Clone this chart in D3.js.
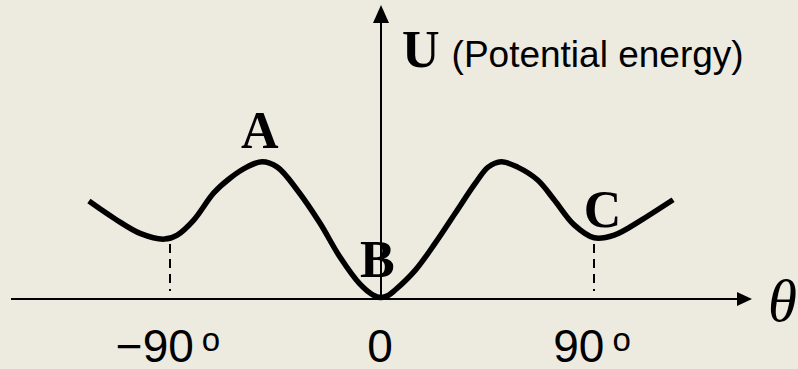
<!DOCTYPE html>
<html>
<head>
<meta charset="utf-8">
<script src="https://cdn.jsdelivr.net/npm/d3@7"></script>
<style>
    html, body { margin: 0; padding: 0; background: #edeae0; overflow: hidden; }
</style>
</head>
<body>
<div class="chart"></div>
<script>
//Curve: angle in degrees, U relative to the peak
var angles = [-124, -113, -102, -92, -86.5, -79.5, -71, -64, -57, -50.5, -44, -35.5, -26, -17.5, -9, -3.5, 0,
              3, 6, 14.5, 23, 31.5, 40, 45.5, 51, 58, 66.5, 73.5, 82, 90.5, 99, 110.5, 124];
var energies = [0.71, 0.58, 0.47, 0.43, 0.46, 0.57, 0.77, 0.88, 0.96, 1.0, 0.96, 0.79, 0.55, 0.30, 0.10, 0.02, 0,
                0.015, 0.055, 0.20, 0.40, 0.62, 0.84, 0.96, 1.0, 0.96, 0.865, 0.72, 0.535, 0.44, 0.46, 0.57, 0.72];
var tickAngles = [-90, 0, 90];
var tickLabels = ["\u221290", "0", "90"];
var tickDegree = [true, false, true];
var pointNames = ["A", "B", "C"];
var pointAngles = [-51.5, -1.5, 94];
var pointEnergies = [1.0, 0, 0.44];

var chart = {
    width: 798,
    height: 369,
    x: d3.scaleLinear().domain([-90, 90]).range([169, 593]),
    y: d3.scaleLinear().domain([0, 1]).range([297.5, 161.7]),
    init() {
        //Create svg
        this.svg = d3.select(".chart")
            .append("svg")
            .attr("width", this.width)
            .attr("height", this.height)
            .style("display", "block");

        this.svg.append("rect")
            .attr("width", this.width)
            .attr("height", this.height)
            .attr("fill", "#edeae0");

        this.drawAxes();
        this.drawGuides();
        this.drawCurve();
        this.drawLabels();
    },
    drawAxes() {
        const x0 = this.x(0);
        const yBase = 299;

        //Horizontal axis with arrow
        this.svg.append("line")
            .attr("x1", 11).attr("y1", yBase)
            .attr("x2", 740).attr("y2", yBase)
            .style("stroke", "black")
            .style("stroke-width", 2);
        this.svg.append("path")
            .attr("d", `M752,${yBase} L737,${yBase - 7} L737,${yBase + 7} Z`)
            .attr("fill", "black");

        //Vertical axis with arrow
        this.svg.append("line")
            .attr("x1", x0).attr("y1", yBase)
            .attr("x2", x0).attr("y2", 20)
            .style("stroke", "black")
            .style("stroke-width", 2);
        this.svg.append("path")
            .attr("d", `M${x0},5 L${x0 - 8},23 L${x0 + 8},23 Z`)
            .attr("fill", "black");
    },
    drawGuides() {
        //Dashed drops at the side minima
        const self = this;
        this.svg.selectAll(".guide")
            .data([-90, 90])
            .enter()
            .append("line")
            .attr("class", "guide")
            .attr("x1", d => Math.round(self.x(d)) + 1)
            .attr("x2", d => Math.round(self.x(d)) + 1)
            .attr("y1", 244)
            .attr("y2", 291)
            .style("stroke", "black")
            .style("stroke-width", 2)
            .style("stroke-dasharray", "9,6");
    },
    drawCurve() {
        const line = d3.line()
            .x(d => this.x(d[0]))
            .y(d => this.y(d[1]))
            .curve(d3.curveCatmullRom.alpha(0.5));

        this.svg.append("path")
            .datum(angles.map((a, i) => [a, energies[i]]))
            .attr("d", line)
            .attr("fill", "none")
            .style("stroke", "black")
            .style("stroke-width", 5.5)
            .style("stroke-linejoin", "round");
    },
    drawLabels() {
        const self = this;

        //Point letters
        const offsets = [-14, -20.5, -11];
        this.svg.selectAll(".point-name")
            .data(pointNames)
            .enter()
            .append("text")
            .attr("class", "point-name")
            .attr("x", (d, i) => self.x(pointAngles[i]))
            .attr("y", (d, i) => self.y(pointEnergies[i]) + offsets[i])
            .attr("text-anchor", "middle")
            .style("font-family", "'Liberation Serif', 'Times New Roman', serif")
            .style("font-weight", "bold")
            .style("font-size", "52px")
            .text(d => d);

        //Axis title
        const title = this.svg.append("text")
            .attr("x", 402)
            .attr("y", 67);
        title.append("tspan")
            .style("font-family", "'Liberation Serif', 'Times New Roman', serif")
            .style("font-weight", "bold")
            .style("font-size", "52px")
            .text("U");
        title.append("tspan")
            .attr("dx", 12)
            .style("font-family", "'Liberation Sans', Arial, sans-serif")
            .style("font-size", "37px")
            .text("(Potential energy)");

        //Theta
        this.svg.append("text")
            .attr("x", 768)
            .attr("y", 321)
            .style("font-family", "'Liberation Serif', 'Times New Roman', serif")
            .style("font-style", "italic")
            .style("font-size", "59px")
            .text("\u03b8");

        //Tick labels (pulled up a little so they sit inside the frame)
        const ticks = this.svg.selectAll(".tick-label")
            .data(tickAngles)
            .enter()
            .append("text")
            .attr("class", "tick-label")
            .attr("x", d => self.x(d) - 1)
            .attr("y", 362)
            .attr("text-anchor", "middle")
            .style("font-family", "'Liberation Sans', Arial, sans-serif")
            .style("font-size", "46px");
        ticks.append("tspan")
            .text((d, i) => tickLabels[i]);
        ticks.filter((d, i) => tickDegree[i])
            .append("tspan")
            .attr("dx", 8)
            .attr("dy", -11)
            .style("font-size", "33px")
            .text("o");
    }
};

chart.init();
</script>
</body>
</html>
